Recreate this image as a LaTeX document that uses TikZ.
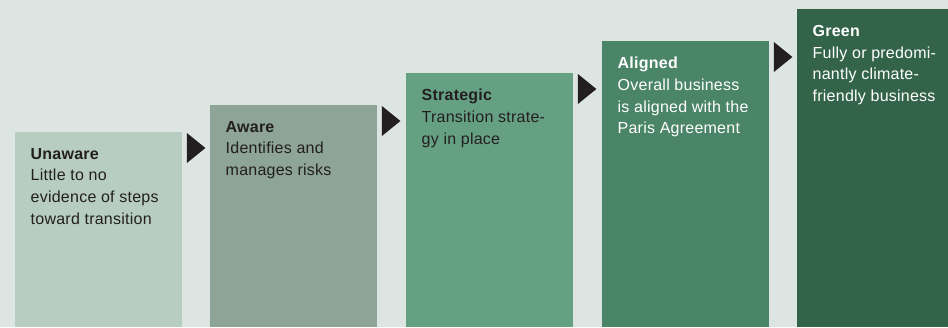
\documentclass[tikz,border=0pt]{standalone}
\usepackage{fontspec}
\setmainfont{Liberation Sans}
\usetikzlibrary{calc}
\definecolor{bgcol}{HTML}{DCE5E1}
\definecolor{stepA}{HTML}{B7CDC2}
\definecolor{stepB}{HTML}{8DA496}
\definecolor{stepC}{HTML}{66A083}
\definecolor{stepD}{HTML}{4B8567}
\definecolor{stepE}{HTML}{336449}
\definecolor{ink}{HTML}{231F20}
\tikzset{
 stage/.style={rectangle,inner sep=0,anchor=north west,minimum width=167},
 stagetext/.style={inner sep=0,anchor=north west,align=left,
  font=\fontsize{16}{21.7}\selectfont\addfontfeatures{LetterSpace=1.5}},
}

\begin{document}
\begin{tikzpicture}[x=1pt,y=-1pt]
 \fill[bgcol] (0,0) rectangle (948,327);
 \clip (0,0) rectangle (948,327);
 % the five steps of the staircase
 \foreach \i/\x/\t/\c/\k/\ttl/\desc in {
   1/15/132/stepA/ink/Unaware/{Little to no\\evidence of steps\\toward transition},
   2/210/105/stepB/ink/Aware/{Identifies and\\manages risks},
   3/406/73/stepC/ink/Strategic/{Transition strate-\\gy in place},
   4/602/41/stepD/white/Aligned/{Overall business\\is aligned with the\\Paris Agreement},
   5/797/9/stepE/white/Green/{Fully or predomi-\\nantly climate-\\friendly business}}{
  \node[stage,fill=\c,minimum height=327-\t] (b\i) at (\x,\t) {};
  \node[stagetext,text=\k] (t\i) at ($(b\i.north west)+(15.5,16)$) {\textbf{\ttl}\\\desc};
 }
 % arrow heads between the steps
 \foreach \i in {1,...,4}{
  \fill[ink] ($(b\i.north east)+(4.5,1)$) -- ++(18.5,15) -- ++(-18.5,15) -- cycle;
 }
\end{tikzpicture}
\end{document}
